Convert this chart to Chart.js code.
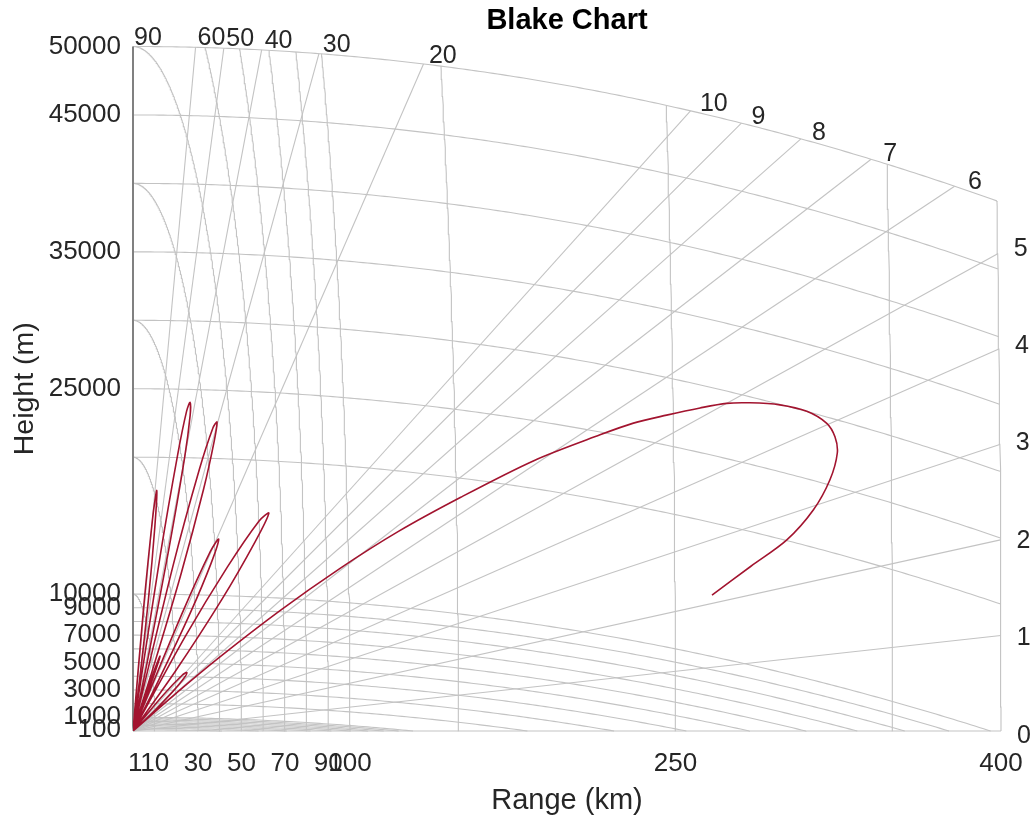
<!DOCTYPE html>
<html>
<head>
<meta charset="utf-8">
<title>Blake Chart</title>
<script src="https://cdn.jsdelivr.net/npm/chart.js@4.4.1/dist/chart.umd.min.js"></script>
<style>
  html, body { margin: 0; padding: 0; background: #fff; }
  #wrap { width: 1036px; height: 818px; }
</style>
</head>
<body>
<div id="wrap"><canvas id="blake" width="1036" height="818"></canvas></div>
<script>
// tick labels, as the axes show them
const rangeTicks = [1, 10, 30, 50, 70, 90, 100, 250, 400];                                   // km
const heightTicks = [100, 1000, 3000, 5000, 7000, 9000, 10000, 25000, 35000, 45000, 50000];  // m

// chart grid: elevation rays (deg), range arcs (km), height curves (km)
const gridAngles = [0, 1, 2, 3, 4, 5, 6, 7, 8, 9, 10, 20, 30, 40, 50, 60, 90];
const gridRanges = [1, 10, 20, 30, 40, 50, 60, 70, 80, 90, 100, 150, 250, 350, 400];
const gridHeights = [0.1, 0.2, 0.3, 0.4, 0.5, 0.6, 0.7, 0.8, 0.9, 1, 2, 3, 4, 5, 6, 7, 8, 9, 10,
                     20, 25, 30, 35, 40, 45, 50];

// vertical coverage pattern: elevation (deg) / range (km)
const vcpAngles = [2.13, 2.42, 2.65, 2.95, 3.27, 3.58, 3.8, 4.02, 4.3, 4.57, 4.82, 5.0, 5.16, 5.36,
                   5.57, 5.74, 6.1, 6.45, 6.8, 7.1, 7.4, 7.7, 7.9, 8.1,
                   8.5, 8.9, 9.3, 9.76, 10.2, 10.7, 11.2,
                   12.0, 12.6, 13.2, 13.8, 14.26, 14.8, 15.4, 16.0, 16.6,
                   17.4, 18.1, 18.8, 19.55, 20.2, 20.8, 21.4,
                   22.4, 23.0, 23.7, 24.3, 24.9,
                   26.4, 27.4, 28.5, 29.5, 30.25, 31.0, 32.0, 33.2, 34.6,
                   37.5, 38.8, 40.0, 41.2, 42.4, 43.4, 44.4, 45.6, 47.0,
                   51.0, 53.5, 56.0, 58.1, 59.8, 61.5, 63.0];
const vcpRanges = [267.0, 285.0, 301.5, 314.0, 321.7, 325.2, 324.2, 320.5, 311.4, 299.0, 285.3, 274.6, 262.4, 247.0,
                   231.7, 216.3, 186.0, 152.0, 123.0, 96.0, 68.0, 40.0, 20.0, 0,
                   10, 18, 23.5, 25.2, 23, 14, 0,
                   0, 20, 42, 58, 64.6, 60, 45, 25, 0,
                   12, 28, 38, 41.9, 38, 24, 0,
                   6, 11, 13.6, 11, 0,
                   10, 25, 37, 43, 44.8, 43, 36, 22, 0,
                   8, 21, 31, 35, 35.6, 34, 29, 18, 0,
                   5, 12, 18, 20.7, 18, 10, 0];

const RMAX = 400;   // km
const HMAX = 50;    // km
const GRID = '#c3c3c3';
const TEXT = '#262626';
const FONT = '"Liberation Sans", Arial, Helvetica, sans-serif';

// earth curvature: refraction makes the effective radius grow near the ground
const effRadius = h => 6900 + 1500 * Math.exp(-h / 20);
const surfY = (x, h) => h - x * x / (2 * effRadius(h));
const polar = (r, deg) => {
    const t = deg * Math.PI / 180;
    return { x: r * Math.cos(t), y: r * Math.sin(t) };
};
const inside = p => p.y <= surfY(p.x, HMAX) + 1e-9 && Math.hypot(p.x, p.y) <= RMAX + 1e-9;
const toData = p => ({ x: p.x, y: p.y * 1000 });

function bisect(ok, lo, hi) {
    for (let i = 0; i < 40; i++) {
        const m = (lo + hi) / 2;
        if (ok(m)) lo = m; else hi = m;
    }
    return lo;
}

function rangeArc(r) {
    const pts = [];
    const step = 0.25;
    for (let a = 0; a <= 90 + 1e-9; a += step) {
        const p = polar(r, a);
        if (!inside(p)) {
            pts.push(polar(r, bisect(t => inside(polar(r, t)), a - step, a)));
            break;
        }
        pts.push(p);
    }
    return pts;
}

function rayEnd(a) {
    if (inside(polar(RMAX, a))) return polar(RMAX, a);
    return polar(bisect(r => inside(polar(r, a)), 0, RMAX), a);
}

function heightLine(h) {
    const ok = x => {
        const y = surfY(x, h);
        return y >= 0 && Math.hypot(x, y) <= RMAX;
    };
    const pts = [];
    const step = 2;
    for (let x = 0; x <= RMAX; x += step) {
        if (!ok(x)) {
            const xe = bisect(ok, x - step, x);
            pts.push({ x: xe, y: Math.max(0, surfY(xe, h)) });
            break;
        }
        pts.push({ x, y: surfY(x, h) });
    }
    return pts;
}

const line = (pts, color, width) => ({
    data: pts.map(toData),
    showLine: true,
    borderColor: color,
    borderWidth: width,
    pointRadius: 0,
    pointHitRadius: 0,
    fill: false,
    tension: 0,
    clip: false
});

const datasets = [];
datasets.push(Object.assign(
    line(vcpAngles.map((a, i) => polar(vcpRanges[i], a)), '#A2142F', 1.6),
    { tension: 0.3, clip: 0 }
));
gridAngles.forEach(a => {
    datasets.push(a === 90 ? line([{ x: 0, y: 0 }, rayEnd(a)], '#808080', 2)
                           : line([{ x: 0, y: 0 }, rayEnd(a)], GRID, 1.1));
});
gridRanges.forEach(r => datasets.push(line(rangeArc(r), GRID, 1.1)));
gridHeights.forEach(h => datasets.push(line(heightLine(h), GRID, 1.1)));

// angle labels along the top curve and the far range edge, plus the title
const blakeLabels = {
    id: 'blakeLabels',
    afterDraw(chart) {
        const { ctx, chartArea, scales: { x, y } } = chart;
        ctx.save();
        ctx.font = '25px ' + FONT;
        ctx.fillStyle = TEXT;
        ctx.textAlign = 'left';
        gridAngles.forEach(a => {
            const e = rayEnd(a);
            if (Math.hypot(e.x, e.y) > RMAX - 0.01) {
                ctx.textBaseline = 'middle';
                ctx.fillText(String(a), x.getPixelForValue(e.x) + 16, y.getPixelForValue(e.y * 1000) + 5 - 2 * a);
            } else {
                const lx = e.x * 1.015 + 0.5;
                ctx.textBaseline = 'alphabetic';
                ctx.fillText(String(a), x.getPixelForValue(lx), y.getPixelForValue(surfY(lx, HMAX) * 1000) - 2);
            }
        });
        ctx.font = 'bold 29px ' + FONT;
        ctx.fillStyle = '#000';
        ctx.textAlign = 'center';
        ctx.textBaseline = 'middle';
        ctx.fillText('Blake Chart', (chartArea.left + chartArea.right) / 2, 21);
        ctx.restore();
    }
};

new Chart(document.getElementById('blake'), {
    type: 'scatter',
    data: { datasets },
    options: {
        responsive: false,
        animation: false,
        devicePixelRatio: 1,
        layout: { padding: { top: 46.5, right: 35, bottom: 0, left: 0 } },
        plugins: {
            legend: { display: false },
            tooltip: { enabled: false },
            title: { display: false }
        },
        scales: {
            x: {
                type: 'linear',
                min: 0,
                max: RMAX,
                grid: { display: false, drawTicks: false },
                border: { display: false },
                afterBuildTicks: s => { s.ticks = rangeTicks.map(v => ({ value: v })); },
                afterFit: s => { s.height = 87; s.paddingLeft = 0; s.paddingRight = 0; },
                ticks: {
                    autoSkip: false,
                    maxRotation: 0,
                    padding: 17,
                    color: TEXT,
                    font: { family: FONT, size: 26 },
                    callback: v => String(v)
                },
                title: {
                    display: true,
                    text: 'Range (km)',
                    color: TEXT,
                    font: { family: FONT, size: 29 },
                    padding: { top: 0, bottom: 0 }
                }
            },
            y: {
                type: 'linear',
                min: 0,
                max: HMAX * 1000,
                grid: { display: false, drawTicks: false },
                border: { display: false },
                afterBuildTicks: s => { s.ticks = heightTicks.map(v => ({ value: v })); },
                afterFit: s => { s.width = 133; s.paddingTop = 0; s.paddingBottom = 0; },
                ticks: {
                    autoSkip: false,
                    padding: 12,
                    color: TEXT,
                    font: { family: FONT, size: 26 },
                    callback: v => String(v)
                },
                title: {
                    display: true,
                    text: 'Height (m)',
                    color: TEXT,
                    font: { family: FONT, size: 28.5 },
                    padding: { top: 8, bottom: 0 }
                }
            }
        }
    },
    plugins: [blakeLabels]
});
</script>
</body>
</html>
